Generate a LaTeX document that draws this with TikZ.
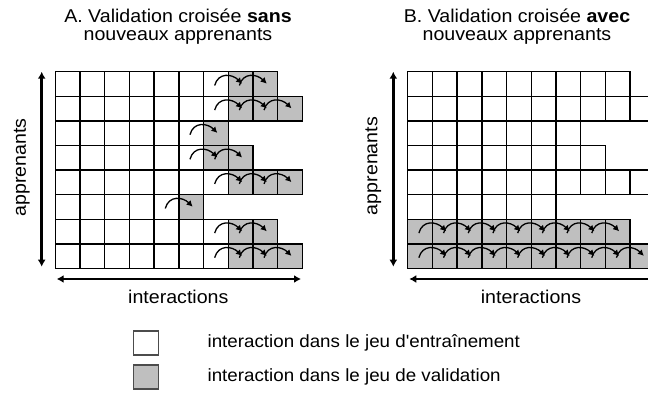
\documentclass[tikz,border=0pt]{standalone}
\usepackage{fontspec}
\setmainfont{Liberation Sans}[Ligatures=TeXOff, FakeStretch=1.06]
\usetikzlibrary{arrows.meta,positioning}

\begin{document}
\begin{tikzpicture}[x=1pt, y=1pt, every node/.style={align=center, font=\fontsize{18.5}{17.5}\selectfont}]
    \tikzset{
      cellbox/.style={
        draw,
        line width=1.4pt,
        minimum width=24.7pt,
        minimum height=24.6pt,
        inner sep=0pt,
        outer sep=0pt
      },
      hop/.style={-{Latex[length=6pt,width=6.5pt]}, line width=1.3pt, out=75, in=135, looseness=1.3},
      axisarrow/.style={{Latex[length=7pt,width=8pt]}-{Latex[length=7pt,width=8pt]}, line width=2.4pt},
      legendtext/.style={font=\fontsize{17.7}{20}\selectfont}
    }
    \useasboundingbox (0,0) rectangle (648,396);
    \clip (0,0) rectangle (648,396);
    \node[anchor=base] (titleA) at (178,355.8) {A. Validation croisée \textbf{sans}\\nouveaux apprenants};
    \node[anchor=base] (titleB) at (517,355.8) {B. Validation croisée \textbf{avec}\\nouveaux apprenants};
    % panel A: white cells / validation cells per learner
    \foreach \w/\g [count=\r] in {7/2,7/3,6/1,6/2,7/3,5/1,7/2,7/3} {
      \pgfmathtruncatemacro\n{\w+\g}
      \foreach \c in {1,...,\n} {
        \ifnum\c>\w \def\cellfill{gray!50}\else\def\cellfill{white}\fi
        \node[cellbox, fill=\cellfill] (A-\r-\c) at (42.95+24.7*\c, 336.6-24.6*\r) {};
        \ifnum\c>\w \ifnum\c>1
          \pgfmathtruncatemacro\cp{\c-1}
          \draw[hop] ([xshift=-1.2pt,yshift=-1.5pt]A-\r-\cp.center) to ([xshift=1.5pt,yshift=0.3pt]A-\r-\c.center);
        \fi\fi
      }
    }
    % panel B
    \foreach \w/\g [count=\r] in {9/0,10/0,7/0,8/0,10/0,6/0,0/9,0/10} {
      \pgfmathtruncatemacro\n{\w+\g}
      \foreach \c in {1,...,\n} {
        \ifnum\c>\w \def\cellfill{gray!50}\else\def\cellfill{white}\fi
        \node[cellbox, fill=\cellfill] (B-\r-\c) at (395.35+24.7*\c, 336.6-24.6*\r) {};
        \ifnum\c>\w \ifnum\c>1
          \pgfmathtruncatemacro\cp{\c-1}
          \draw[hop] ([xshift=-1.2pt,yshift=-1.5pt]B-\r-\cp.center) to ([xshift=1.5pt,yshift=0.3pt]B-\r-\c.center);
        \fi\fi
      }
    }
    % axes
    \draw[axisarrow, line width=2.7pt] ([xshift=-13.6pt]A-1-1.north west) -- ([xshift=-13.6pt,yshift=1.8pt]A-8-1.south west);
    \draw[axisarrow] ([xshift=1.4pt,yshift=-10.5pt]A-8-1.south west) -- ([xshift=-1.3pt,yshift=-10.5pt]A-8-10.south east);
    \draw[axisarrow, line width=2.7pt] ([xshift=-14.4pt]B-1-1.north west) -- ([xshift=-14.4pt,yshift=1.8pt]B-8-1.south west);
    \draw[axisarrow] ([xshift=1.6pt,yshift=-10.5pt]B-8-1.south west) -- ([xshift=12pt,yshift=-10.5pt]B-8-10.south east);
    \node[rotate=90] (usersA) at (21.7,228.5) {apprenants};
    \node[rotate=90] (usersB) at (373.3,230) {apprenants};
    \node[anchor=base] (stepsA) at (178.3,92) {interactions};
    \node[anchor=base] (stepsB) at (531,92) {interactions};
    % legend
    \node[cellbox, minimum width=25pt, minimum height=24pt, draw=black!70, fill=white] (legtrain) at (145.8,53) {};
    \node[cellbox, minimum width=25pt, minimum height=24pt, draw=black!70, fill=gray!50, below=10pt of legtrain] (legval) {};
    \node[legendtext, right=45.8pt of legtrain] (txttrain) {interaction dans le jeu d'entraînement};
    \node[legendtext, right=45.8pt of legval] (txtval) {interaction dans le jeu de validation};
  \end{tikzpicture}
\end{document}
